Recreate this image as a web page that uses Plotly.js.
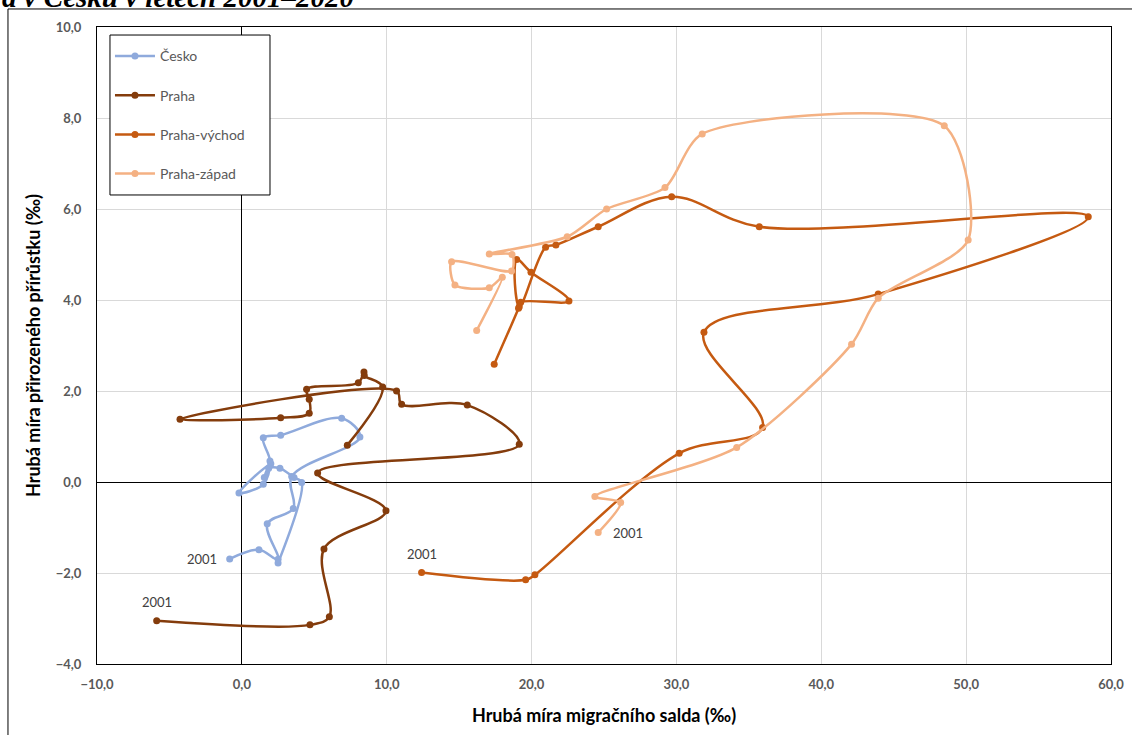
<!DOCTYPE html>
<html>
<head>
<meta charset="utf-8">
<script src="https://cdn.plot.ly/plotly-3.0.1.min.js"></script>
<style>html,body{margin:0;padding:0;background:#fff;}#chart{width:1132px;height:735px;}</style>
</head>
<body>
<div id="chart"></div>
<script>
// Series: x = hrubá míra migračního salda (‰), y = hrubá míra přirozeného přírůstku (‰), roky 2001–2020
const seriesNames = ["Česko", "Praha", "Praha-východ", "Praha-západ"];
const seriesColors = ["#8FAADC", "#843C0C", "#C55A11", "#F4B183"];
const firstYearLabel = "2001";

const ceskoX = [-0.84, 1.18, 2.50, 1.75, 3.55, 3.44, 8.15, 6.89, 2.68, 1.48, 1.94, 1.48, -0.20, 2.00, 1.55, 1.85, 2.63, 3.60, 4.13, 2.50];
const ceskoY = [-1.69, -1.49, -1.70, -0.92, -0.58, 0.12, 0.99, 1.40, 1.03, 0.97, 0.46, -0.05, -0.24, 0.40, 0.10, 0.30, 0.30, 0.10, -0.01, -1.78];

const prahaX = [-5.88, 4.70, 6.04, 5.67, 9.95, 5.23, 19.15, 15.56, 11.03, 10.68, -4.27, 2.68, 4.65, 4.65, 4.47, 8.04, 8.43, 8.45, 9.72, 7.28];
const prahaY = [-3.05, -3.14, -2.96, -1.47, -0.63, 0.20, 0.83, 1.69, 1.71, 2.00, 1.38, 1.41, 1.51, 1.82, 2.04, 2.18, 2.42, 2.34, 2.09, 0.81];

const vychodX = [12.41, 19.59, 20.23, 30.19, 35.95, 31.90, 43.93, 58.43, 35.72, 29.67, 24.60, 21.68, 20.97, 19.15, 18.97, 19.96, 22.58, 19.25, 19.10, 17.42];
const vychodY = [-1.99, -2.15, -2.04, 0.63, 1.20, 3.29, 4.13, 5.83, 5.61, 6.27, 5.61, 5.21, 5.16, 3.85, 4.89, 4.61, 3.98, 3.95, 3.82, 2.59];

const zapadX = [24.60, 26.15, 24.37, 34.16, 42.09, 43.93, 50.14, 48.49, 31.78, 29.21, 25.18, 22.46, 17.08, 18.65, 18.62, 14.48, 14.71, 17.08, 17.98, 16.21];
const zapadY = [-1.11, -0.45, -0.32, 0.76, 3.03, 4.04, 5.32, 7.83, 7.65, 6.47, 6.00, 5.39, 5.01, 5.00, 4.64, 4.84, 4.33, 4.27, 4.50, 3.33];

const xTitle = "Hrubá míra migračního salda (‰)";
const yTitle = "Hrubá míra přirozeného přírůstku (‰)";
const chartTitle = "a v Česku v letech 2001–2020";

const allX = [ceskoX, prahaX, vychodX, zapadX];
const allY = [ceskoY, prahaY, vychodY, zapadY];
const smoothings = [1, 1, 1, 0.75];

const traces = seriesNames.map((name, i) => ({
  type: "scatter",
  mode: "lines+markers",
  name: name,
  legendgroup: "g" + i,
  x: allX[i],
  y: allY[i],
  line: {color: seriesColors[i], width: 2.5, shape: "spline", smoothing: smoothings[i]},
  marker: {color: seriesColors[i], size: 7},
  hoverinfo: "x+y+name"
}));

// "2001" labels near first points (offsets in pixels)
const labelOffsets = [[-28, 0], [0, -19], [0, -19], [30, 0]];
const annotations = seriesNames.map((name, i) => ({
  x: allX[i][0], y: allY[i][0], xref: "x", yref: "y",
  text: firstYearLabel, showarrow: false,
  xshift: labelOffsets[i][0], yshift: -labelOffsets[i][1],
  font: {family: "Lato, 'Open Sans', sans-serif", size: 13, color: "#404040"}
}));
annotations.push({
  xref: "paper", yref: "paper", x: -0.0957, y: 1.0196,
  xanchor: "left", yanchor: "bottom", showarrow: false,
  text: chartTitle,
  font: {family: "'Liberation Serif', 'DejaVu Serif', serif", size: 29, color: "#000", weight: "bold", style: "italic"}
});

const axisCommon = {
  showgrid: true, gridcolor: "#D9D9D9", gridwidth: 1,
  zeroline: true, zerolinecolor: "#000", zerolinewidth: 1,
  showline: true, mirror: true, linecolor: "#000", linewidth: 1,
  ticks: "", tickformat: ".1f",
  tickfont: {family: "Lato, 'Open Sans', sans-serif", size: 13, color: "#595959", weight: "bold"},
  title: {font: {family: "Lato, 'Open Sans', sans-serif", size: 18, color: "#000", weight: "bold"}}
};

const layout = {
  width: 1132, height: 735,
  margin: {l: 97, r: 21, t: 27, b: 71, pad: 0},
  paper_bgcolor: "#fff", plot_bgcolor: "#fff",
  separators: ", ",
  showlegend: true,
  legend: {
    x: 0.0128, y: 0.979, xanchor: "left", yanchor: "top",
    borderwidth: 0, bgcolor: "rgba(255,255,255,0)",
    font: {family: "Lato, 'Open Sans', sans-serif", size: 14, color: "#595959"},
    tracegroupgap: 18, itemwidth: 40
  },
  xaxis: Object.assign({}, axisCommon, {
    range: [-10, 60], dtick: 10, tick0: 0, ticklabelstandoff: 8,
    title: Object.assign({}, axisCommon.title, {text: xTitle, standoff: 18})
  }),
  yaxis: Object.assign({}, axisCommon, {
    range: [-4, 10], dtick: 2, tick0: 0, ticklabelstandoff: 12,
    title: Object.assign({}, axisCommon.title, {text: yTitle, standoff: 10})
  }),
  annotations: annotations,
  shapes: [
    {
      type: "rect", xref: "paper", yref: "paper",
      x0: -0.0878, x1: 1.2, y0: -0.2, y1: 1.0283,
      line: {color: "#000", width: 1}, fillcolor: "rgba(0,0,0,0)", layer: "below"
    },
    {
      type: "rect", xref: "paper", yref: "paper",
      x0: 0.0128, x1: 0.1706, y0: 0.7363, y1: 0.9874,
      line: {color: "#000", width: 1}, fillcolor: "#fff", layer: "above"
    }
  ]
};

Plotly.newPlot("chart", traces, layout, {displayModeBar: false, staticPlot: true});
</script>
</body>
</html>
